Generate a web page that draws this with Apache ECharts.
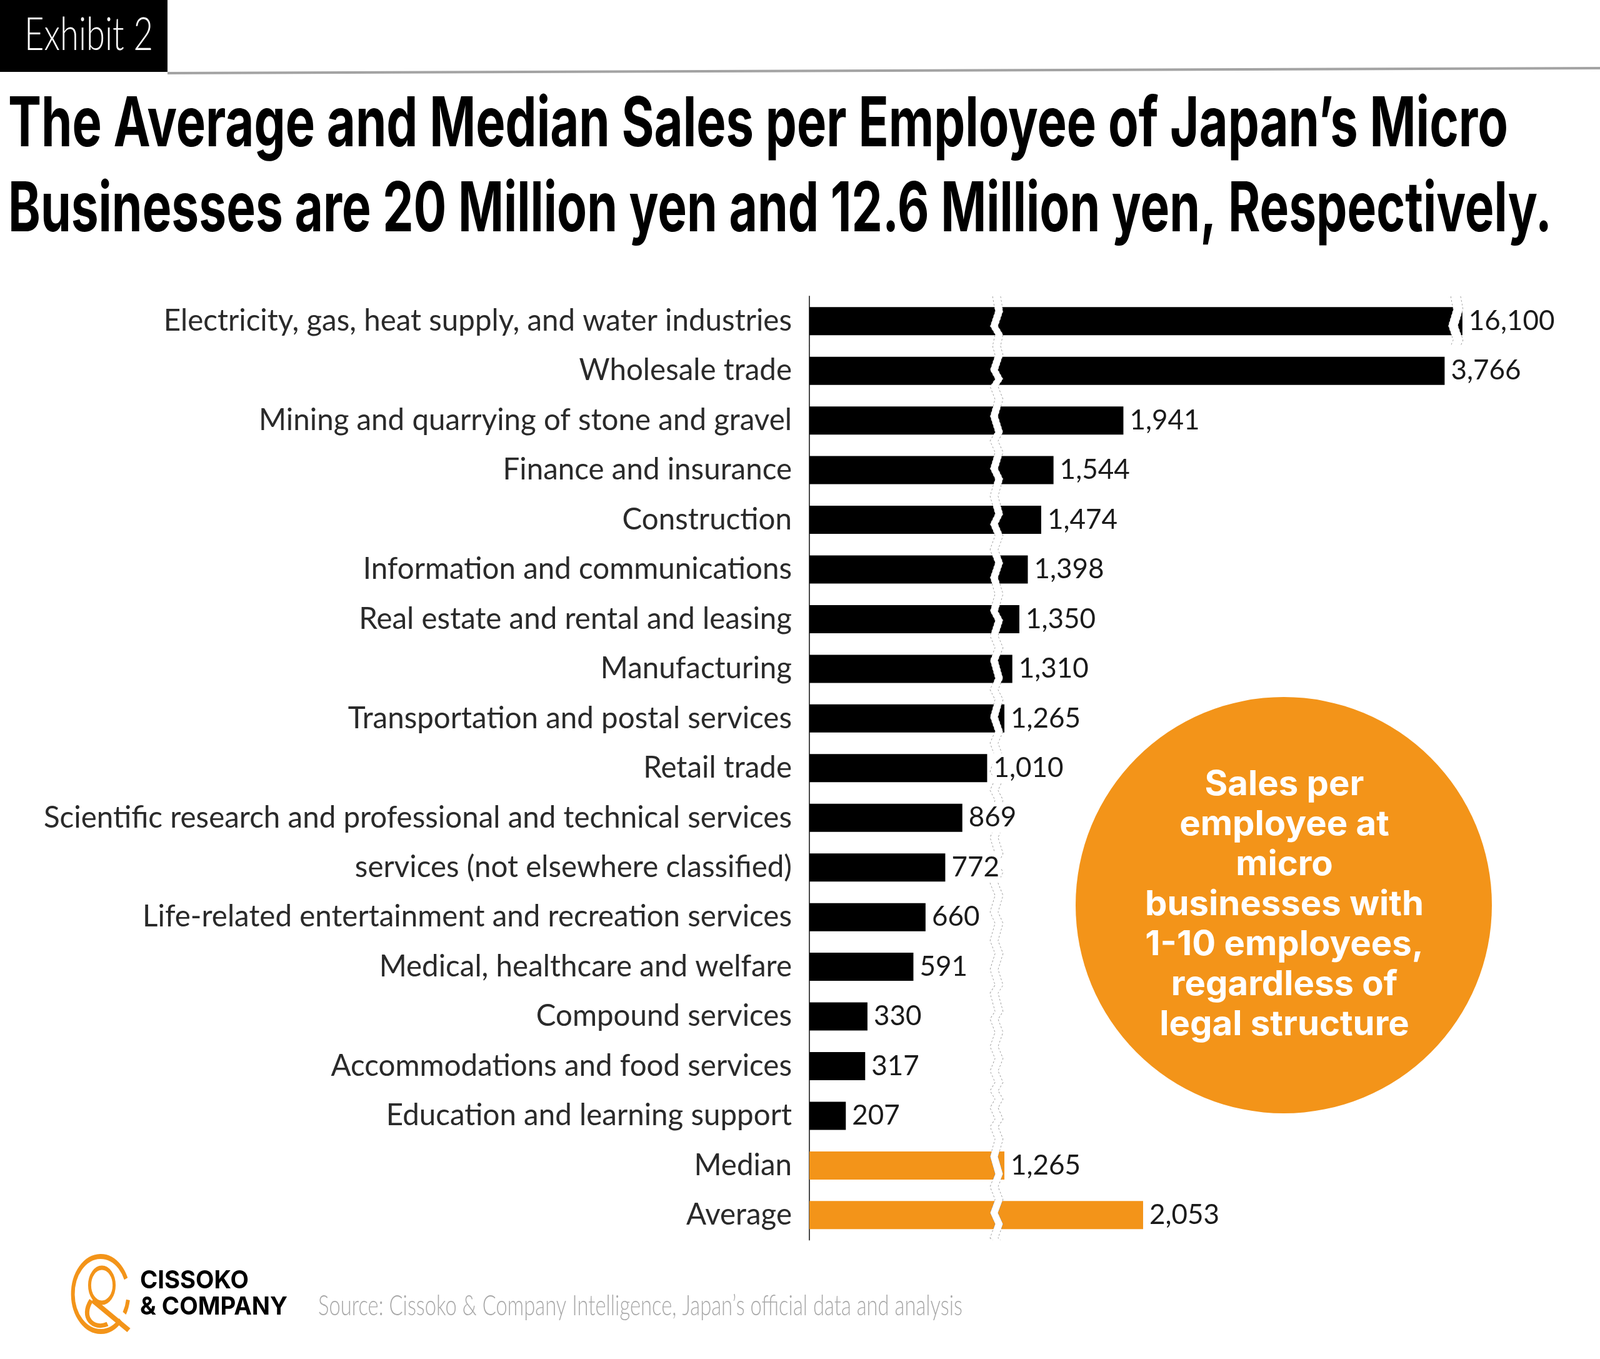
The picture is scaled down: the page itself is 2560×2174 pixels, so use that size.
<!DOCTYPE html>
<html>
<head>
<meta charset="utf-8">
<title>Sales per Employee of Japan's Micro Businesses</title>
<script src="https://cdn.jsdelivr.net/npm/echarts@6.0.0/dist/echarts.min.js"></script>
<style>
    html, body { margin: 0; padding: 0; background: #fff; }
    #chart { width: 2560px; height: 2174px; }
</style>
</head>
<body>
<div id="chart"></div>
<script>
// chart data (10,000 yen per employee)
var categories = [
    'Electricity, gas, heat supply, and water industries',
    'Wholesale trade',
    'Mining and quarrying of stone and gravel',
    'Finance and insurance',
    'Construction',
    'Information and communications',
    'Real estate and rental and leasing',
    'Manufacturing',
    'Transportation and postal services',
    'Retail trade',
    'Scientific research and professional and technical services',
    'services (not elsewhere classified)',
    'Life-related entertainment and recreation services',
    'Medical, healthcare and welfare',
    'Compound services',
    'Accommodations and food services',
    'Education and learning support',
    'Median',
    'Average'
];
var values = [16100, 3766, 1941, 1544, 1474, 1398, 1350, 1310, 1265, 1010, 869, 772, 660, 591, 330, 317, 207, 1265, 2053];
var summaryRows = ['Median', 'Average'];

var titleLines = [
    'The Average and Median Sales per Employee of Japan\u2019s Micro',
    'Businesses are 20 Million yen and 12.6 Million yen, Respectively.'
];
var noteLines = ['Sales per', 'employee at', 'micro', 'businesses with', '1-10 employees,', 'regardless of', 'legal structure'];
var exhibitText = 'Exhibit 2';
var sourceText = 'Source: Cissoko & Company Intelligence, Japan\u2019s official data and analysis';
var logoLines = ['CISSOKO', '& COMPANY'];

var BLACK = '#000000';
var ORANGE = '#F39419';
var TEXT = '#2a2a2a';

// 用 canvas 量文字宽度，好把字压窄到原图宽度
var ctx = document.createElement('canvas').getContext('2d');
function textWidth(text, font) {
    ctx.font = font;
    return ctx.measureText(text).width;
}
function fitText(text, x, y, family, size, weight, width, color, align) {
    var font = weight + ' ' + size + 'px ' + family;
    return {
        type: 'text',
        x: x,
        y: y,
        scaleX: width / textWidth(text, font),
        style: {
            text: text, font: font, fill: color,
            textAlign: align || 'left', textVerticalAlign: 'middle',
            align: align || 'left', verticalAlign: 'middle'
        }
    };
}

// axis label size so the longest label is as wide as in the picture
var longest = categories.reduce(function (a, b) {
    return textWidth(a, '100px Lato') > textWidth(b, '100px Lato') ? a : b;
});
var labelSize = Math.round(100 * 1198 / textWidth(longest, '100px Lato') * 2) / 2;
var valueSize = Math.round(labelSize * 0.92);

// broken axis
var pxPerUnit = 0.28163;
var break1 = {start: 1040, end: 1240, gap: 43};
var break2 = {start: 3800, end: 16086, gap: 53};
var maxA = 16100, maxB = 4000;
function span(max, breaks) {
    var s = max;
    breaks.forEach(function (b) { s = s - (b.end - b.start) + b.gap; });
    return s;
}
var axisLeft = 1295, bandH = 79.45;

var breakArea = {
    show: true,
    itemStyle: {color: '#fff', borderColor: '#8a8a8a', borderWidth: 1.5, opacity: 1},
    zigzagAmplitude: 4,
    zigzagMinSpan: 12,
    zigzagMaxSpan: 30,
    zigzagZ: 100,
    expandOnClick: false
};

function xAxisOf(gridIndex, max, breaks) {
    return {
        type: 'value', gridIndex: gridIndex, min: 0, max: max,
        breaks: breaks, breakArea: breakArea,
        axisLine: {show: false}, axisTick: {show: false},
        axisLabel: {show: false}, splitLine: {show: false}
    };
}
function yAxisOf(gridIndex, cats) {
    return {
        type: 'category', gridIndex: gridIndex, data: cats, inverse: true,
        axisLine: {show: true, lineStyle: {color: '#4a4a4a', width: 2}},
        axisTick: {show: false},
        axisLabel: {color: TEXT, fontFamily: 'Lato', fontSize: labelSize, margin: 28}
    };
}
function toData(cats, vals) {
    return vals.map(function (v, i) { return {name: cats[i], value: v}; });
}
// 实心柱子，在断轴白带下面
function barSeries(index, cats, vals) {
    return {
        type: 'bar', xAxisIndex: index, yAxisIndex: index,
        barWidth: 45, barGap: '-100%', z: 2,
        data: toData(cats, vals),
        itemStyle: {
            color: function (p) { return summaryRows.indexOf(p.name) >= 0 ? ORANGE : BLACK; }
        }
    };
}
// 透明柱子只负责数值标签，放在断轴白带上面
function labelSeries(index, cats, vals) {
    return {
        type: 'bar', xAxisIndex: index, yAxisIndex: index,
        barWidth: 45, barGap: '-100%', z: 200, silent: true,
        data: toData(cats, vals),
        itemStyle: {color: 'rgba(0,0,0,0)'},
        label: {
            show: true, position: 'right', distance: 8,
            color: '#1a1a1a', fontFamily: 'Lato', fontSize: valueSize,
            backgroundColor: '#fff', padding: [2, 2],
            formatter: function (p) { return p.value.toLocaleString('en-US'); }
        }
    };
}

// logo + frame bits
var graphics = [
    {type: 'rect', shape: {x: 0, y: 0, width: 268, height: 115}, style: {fill: '#000'}},
    fitText(exhibitText, 39, 57, 'Lato', 72, 300, 206, '#fff'),
    {type: 'line', shape: {x1: 268, y1: 117, x2: 2560, y2: 109}, style: {stroke: '#a3a3a3', lineWidth: 4}},
    fitText(titleLines[0], 13, 201, 'Inter', 110, 'bold', 2400, '#000'),
    fitText(titleLines[1], 13, 337, 'Inter', 110, 'bold', 2470, '#000'),
    {type: 'circle', shape: {cx: 2054, cy: 1448, r: 333}, style: {fill: ORANGE}, z: 10},
    fitText(sourceText, 509, 2089, 'Lato', 45, 300, 1031, '#a8a8a8'),
    fitText(logoLines[0], 224, 2049, 'Inter', 40, 'bold', 174, '#000'),
    fitText(logoLines[1], 224, 2091, 'Inter', 40, 'bold', 236, '#000'),
    {type: 'arc', x: 161, y: 2070, scaleX: 0.74,
        shape: {cx: 0, cy: 0, r: 60, startAngle: 44 * Math.PI / 180, endAngle: 336 * Math.PI / 180, clockwise: true},
        style: {stroke: ORANGE, lineWidth: 8, fill: null}},
    {type: 'arc', x: 161, y: 2070, scaleX: 0.74,
        shape: {cx: 0, cy: 0, r: 60, startAngle: 9 * Math.PI / 180, endAngle: 31 * Math.PI / 180, clockwise: true},
        style: {stroke: ORANGE, lineWidth: 8, fill: null}},
    {type: 'arc', x: 163, y: 2056, scaleX: 0.7,
        shape: {cx: 0, cy: 0, r: 28, startAngle: 0, endAngle: Math.PI * 2},
        style: {stroke: ORANGE, lineWidth: 7, fill: null}},
    {type: 'bezierCurve',
        shape: {x1: 146, y1: 2080, cpx1: 128, cpy1: 2108, cpx2: 150, cpy2: 2128, x2: 172, y2: 2118},
        style: {stroke: ORANGE, lineWidth: 7, fill: null}},
    {type: 'line', shape: {x1: 148, y1: 2080, x2: 206, y2: 2128}, style: {stroke: ORANGE, lineWidth: 8}}
];

var noteFont = 'bold 55px Inter';
var noteScale = 446 / textWidth(noteLines[3], noteFont);
noteLines.forEach(function (line, i) {
    graphics.push({
        type: 'text', x: 2055, y: 1255 + i * 64, scaleX: noteScale, z: 11,
        style: {
            text: line, font: noteFont, fill: '#fff',
            textAlign: 'center', textVerticalAlign: 'middle', align: 'center', verticalAlign: 'middle'
        }
    });
});

var myChart = echarts.init(document.getElementById('chart'));
myChart.setOption({
    animation: false,
    backgroundColor: '#fff',
    grid: [
        {left: axisLeft, top: 474, height: bandH, width: pxPerUnit * span(maxA, [break1, break2]), containLabel: false},
        {left: axisLeft, top: 474 + bandH, height: bandH * 18, width: pxPerUnit * span(maxB, [break1]), containLabel: false}
    ],
    xAxis: [
        xAxisOf(0, maxA, [break1, break2]),
        xAxisOf(1, maxB, [break1])
    ],
    yAxis: [
        yAxisOf(0, categories.slice(0, 1)),
        yAxisOf(1, categories.slice(1))
    ],
    series: [
        barSeries(0, categories.slice(0, 1), values.slice(0, 1)),
        labelSeries(0, categories.slice(0, 1), values.slice(0, 1)),
        barSeries(1, categories.slice(1), values.slice(1)),
        labelSeries(1, categories.slice(1), values.slice(1))
    ],
    graphic: {elements: graphics}
});
</script>
</body>
</html>
